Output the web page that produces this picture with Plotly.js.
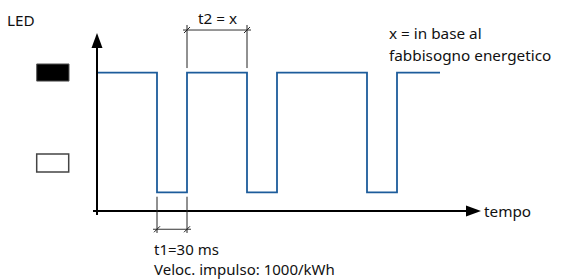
<!DOCTYPE html>
<html>
<head>
<meta charset="utf-8">
<script src="https://cdn.plot.ly/plotly-3.0.1.min.js"></script>
<style>html,body{margin:0;padding:0;background:#fff;}#chart{width:561px;height:279px;}</style>
</head>
<body>
<div id="chart"></div>
<script>
// Waveform: edge times (ms-like units) and LED level (1 = on, 0 = off)
const edgeTimes = [0, 60, 90, 150, 180, 270, 300, 343];
const ledLevels = [1, 0, 1, 0, 1, 0, 1, 1];
// Labels
const yLabel = "LED";
const xLabel = "tempo";
const t1Label = "t1=30 ms";
const rateLabel = "Veloc. impulso: 1000/kWh";
const t2Label = "t2 = x";
const noteLines = ["x = in base al", "fabbisogno energetico"];

const X_RANGE = [-97, 464];
const Y_RANGE = [-0.725, 1.608];
const PX_X = 561 / (X_RANGE[1] - X_RANGE[0]);   // px per time unit
const PX_Y = 279 / (Y_RANGE[1] - Y_RANGE[0]);   // px per level unit
const dy = p => p / PX_Y;
const dx = p => p / PX_X;

const AXIS_L = -0.156;
const FONT = {family: "Noto Sans, Open Sans, sans-serif", size: 15.3, color: "#111"};
const BLUE = "#1d5c9b";

const shapes = [];
const line = (x0, y0, x1, y1, color, width) =>
  shapes.push({type: "line", xref: "x", yref: "y", x0, y0, x1, y1, line: {color, width}});

// axes
line(-dx(4), AXIS_L, 370, AXIS_L, "#000", 2);
line(0, AXIS_L - dy(4), 0, 1.21, "#000", 2);
shapes.push({type: "path", xref: "x", yref: "y", fillcolor: "#000", line: {width: 0},
  path: `M 369 ${AXIS_L + dy(5.5)} L 384 ${AXIS_L} L 369 ${AXIS_L - dy(5.5)} Z`});
shapes.push({type: "path", xref: "x", yref: "y", fillcolor: "#000", line: {width: 0},
  path: `M ${-dx(5.5)} 1.207 L 0 1.332 L ${dx(5.5)} 1.207 Z`});

// legend boxes
shapes.push({type: "rect", xref: "x", yref: "y", x0: -60.3, x1: -28, y0: 0.93, y1: 1.073,
  fillcolor: "#000", line: {color: "#555", width: 1}});
shapes.push({type: "rect", xref: "x", yref: "y", x0: -60.3, x1: -28.3, y0: 0.17, y1: 0.32,
  fillcolor: "#fff", line: {color: "#444", width: 1.5}});

// dimension lines
function dim(tA, tB, extFrom, extTo, lineL) {
  line(tA, extFrom, tA, extTo, "#222", 1);
  line(tB, extFrom, tB, extTo, "#222", 1);
  line(tA - dx(4), lineL, tB + dx(4), lineL, "#333", 1);
  [tA, tB].forEach(t => line(t - dx(3), lineL - dy(3), t + dx(3), lineL + dy(3), "#222", 1));
}
dim(edgeTimes[1], edgeTimes[2], -0.037, -0.34, -0.309);
dim(edgeTimes[2], edgeTimes[3], 1.039, 1.399, 1.357);

const ann = (text, x, y, xanchor, size) => ({text, x, y, xref: "x", yref: "y", xanchor: xanchor || "left",
  yanchor: "middle", align: "left", showarrow: false,
  font: Object.assign({}, FONT, size ? {size} : {})});

const annotations = [
  ann(yLabel, -92, 1.44),
  ann(xLabel, 385, AXIS_L),
  ann(t1Label + "<br>" + rateLabel, 54.5, -0.556, "left", 15),
  ann(t2Label, (edgeTimes[2] + edgeTimes[3]) / 2, 1.46, "center"),
  ann(noteLines[0], 289.5, 1.332),
  ann(noteLines[1], 289.5, 1.148)
];

const trace = {x: edgeTimes, y: ledLevels, mode: "lines", type: "scatter",
  line: {shape: "hv", color: BLUE, width: 1.8}, hoverinfo: "skip"};

Plotly.newPlot("chart", [trace], {
  width: 561, height: 279, margin: {l: 0, r: 0, t: 0, b: 0},
  paper_bgcolor: "#fff", plot_bgcolor: "#fff", showlegend: false,
  xaxis: {range: X_RANGE, visible: false, fixedrange: true},
  yaxis: {range: Y_RANGE, visible: false, fixedrange: true},
  shapes, annotations
}, {displayModeBar: false, staticPlot: true});
</script>
</body>
</html>
